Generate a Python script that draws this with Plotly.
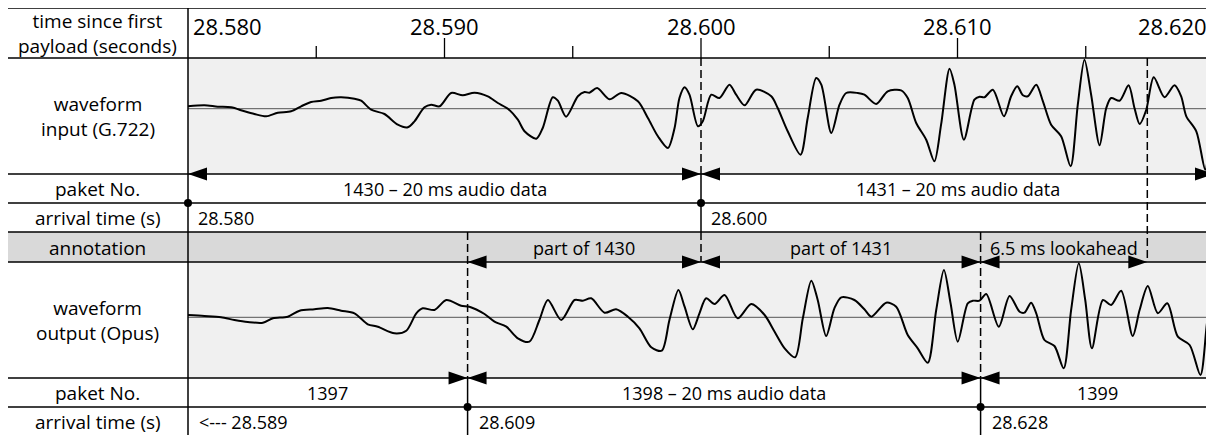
import plotly.graph_objects as go

# ---------------- data ----------------
T0 = 28.580
x_range = [28.580, 28.620]
major_ticks = [28.580, 28.590, 28.600, 28.610, 28.620]
minor_ticks = [28.585, 28.595, 28.605, 28.615]
tick_labels = ["28.580", "28.590", "28.600", "28.610", "28.620"]

# input waveform (G.722): time offset in ms from 28.580 s, amplitude (arbitrary units)
in_ms = [0.00, 0.64, 1.16, 1.68, 2.20, 2.59, 3.05, 3.50, 4.02, 4.41,
         4.80, 5.19, 5.58, 5.97, 6.49, 6.75, 7.14, 7.66, 8.18, 8.57,
         8.83, 9.22, 9.48, 9.81, 10.26, 10.71, 11.17, 11.69, 12.08, 12.47,
         12.86, 13.12, 13.58, 13.83, 14.22, 14.42, 14.74, 15.20, 15.46, 15.65,
         15.95, 16.43, 16.89, 17.54, 17.93, 18.32, 18.71, 18.97, 19.16, 19.36,
         19.55, 19.88, 20.07, 20.40, 20.72, 21.11, 21.37, 21.70, 22.15, 22.74,
         22.99, 23.38, 23.88, 24.16, 24.49, 24.69, 25.08, 25.40, 25.66, 26.11,
         26.37, 26.83, 27.28, 27.80, 28.06, 28.39, 28.78, 29.10, 29.36, 29.69,
         29.88, 30.25, 30.66, 30.86, 31.05, 31.38, 31.81, 32.09, 32.33, 32.55,
         32.74, 33.07, 33.33, 33.65, 34.04, 34.41, 34.69, 34.95, 35.21, 35.54,
         35.80, 35.99, 36.32, 36.67, 36.90, 37.10, 37.36, 37.65, 38.07, 38.46,
         38.72, 38.92, 39.31, 39.66, 39.83, 40.00]
in_amp = [2.4, 3.4, 2.0, 1.4, -2.6, -5.3, -7.6, -4.0, -2.6, 2.4,
          6.7, 8.0, 10.7, 11.4, 10.0, 8.0, -1.0, -5.3, -16.0, -18.6,
          -12.6, 1.4, 4.0, 2.4, 15.7, 13.4, 16.0, 12.4, 5.7, 0.0,
          -11.0, -22.5, -30.0, -19.3, 11.4, 8.0, -8.0, 12.4, 16.7, 16.0,
          20.7, 9.4, 15.7, 7.4, -9.3, -27.6, -39.3, -19.3, 10.7, 21.4,
          14.0, -17.6, -12.6, 14.0, 10.7, 24.0, 14.0, 3.4, 19.0, 12.4,
          0.7, -22.6, -46.0, -9.3, 30.7, 24.0, -24.3, 4.0, 15.7, 15.7,
          14.0, 4.7, 17.4, 18.4, 10.7, -14.3, -31.0, -52.6, -16.0, 40.0,
          24.0, -31.0, 9.0, 12.0, 11.4, 19.0, -7.6, 12.4, 22.4, 13.4,
          12.4, 24.0, 7.4, -16.0, -27.6, -57.6, 4.0, 49.0, 14.0, -36.6,
          0.7, 10.7, 8.0, 23.4, 0.7, -15.3, -1.0, 31.4, 11.4, 23.4,
          12.4, -7.6, -22.6, -61.0, -36.0, -14.3]

# output waveform (Opus)
out_ms = [0.00, 0.64, 1.29, 1.81, 2.33, 2.92, 3.31, 3.89, 4.35, 4.93,
          5.45, 5.97, 6.49, 7.01, 7.40, 8.05, 8.51, 8.90, 9.15, 9.61,
          10.07, 10.65, 10.97, 11.56, 11.95, 12.41, 12.86, 13.31, 13.70, 14.03,
          14.55, 15.07, 15.39, 15.72, 16.24, 16.69, 17.15, 17.60, 18.06, 18.47,
          18.77, 19.12, 19.36, 19.68, 19.94, 20.20, 20.53, 20.92, 21.43, 21.96,
          22.48, 22.87, 23.26, 23.67, 23.97, 24.30, 24.55, 24.88, 25.20, 25.47,
          25.98, 26.37, 26.64, 27.22, 27.61, 28.06, 28.45, 28.84, 29.17, 29.47,
          29.73, 30.01, 30.40, 30.60, 30.86, 31.12, 31.61, 32.03, 32.42, 32.61,
          32.87, 33.07, 33.39, 33.78, 34.14, 34.43, 34.73, 34.98, 35.24, 35.67,
          35.99, 36.38, 36.83, 37.10, 37.42, 37.81, 38.18, 38.59, 39.05, 39.47,
          39.71, 39.93]
out_amp = [2.3, 1.3, 0.0, -2.7, -4.7, -5.4, -1.0, 0.6, 6.6, 8.0,
           9.3, 6.6, 4.0, -7.0, -9.4, -16.0, -13.4, 4.0, 9.0, 7.3,
           17.3, 11.6, 10.6, 3.3, -4.4, -9.4, -21.0, -24.4, -2.7, 17.3,
           -2.7, 17.3, 16.6, 19.0, 4.6, 8.0, 0.6, -11.0, -30.0, -33.4,
           -2.7, 27.3, 10.6, -12.0, 4.0, 19.0, 13.3, 22.3, -1.0, 13.3,
           2.3, -14.4, -31.0, -40.0, -1.0, 36.6, 17.3, -18.7, 9.0, 20.0,
           17.3, 8.0, 0.6, 14.6, 10.6, -17.7, -31.0, -45.4, 7.3, 47.3,
           14.0, -24.4, 14.0, 16.6, 16.6, 23.3, -9.4, 21.3, 5.6, 4.6,
           14.6, 4.0, -22.7, -28.7, -51.0, 7.3, 54.0, 17.3, -31.0, 17.3,
           12.3, 26.6, -18.7, 7.3, 31.3, 4.0, 14.0, -19.4, -27.7, -57.7,
           -9.4, 45.6]

in_frames = [28.580, 28.600, 28.620]
in_packet_labels = ["1430 \u2013 20 ms audio data", "1431 \u2013 20 ms audio data"]
in_arrival_labels = ["28.580", "28.600"]

out_frames = [28.5909, 28.6109]
lookahead_end = 28.6174
annotation_labels = ["part of 1430", "part of 1431", "6.5 ms lookahead"]
out_packet_labels = ["1397", "1398 \u2013 20 ms audio data", "1399"]
out_arrival_labels = ["<--- 28.589", "28.609", "28.628"]

row_labels = ["time since first<br>payload (seconds)", "waveform<br>input (G.722)",
              "paket No.", "arrival time (s)", "annotation",
              "waveform<br>output (Opus)", "paket No.", "arrival time (s)"]

# ---------------- layout constants (screen pixels; page body adds an 8px offset) ----------------
W, H = 1214, 435
OFF = 8
LEFT = 188                 # screen x of the time axis start
RIGHT = 1214               # screen x of the time axis end
PW = RIGHT - LEFT
ROWS = [8, 58, 174, 203, 232, 262, 378, 407, 443]
BORDER_X = 7
FONT = "Open Sans"


def paper_x(p):
    return (p - LEFT) / PW


def dom(y_top, y_bot):
    return [1 - (y_bot - OFF) / H, 1 - (y_top - OFF) / H]


fig = go.Figure()

fig.add_trace(go.Scatter(x=[T0 + m / 1000 for m in in_ms], y=in_amp, xaxis="x", yaxis="y2",
                         mode="lines", line=dict(color="black", width=2, shape="spline", smoothing=0.8),
                         hoverinfo="skip", showlegend=False))
fig.add_trace(go.Scatter(x=[T0 + m / 1000 for m in out_ms], y=out_amp, xaxis="x", yaxis="y3",
                         mode="lines", line=dict(color="black", width=2, shape="spline", smoothing=0.8),
                         hoverinfo="skip", showlegend=False))
# arrival dots
fig.add_trace(go.Scatter(x=in_frames[:2] + out_frames,
                         y=[ROWS[3]] * 2 + [ROWS[7]] * 2, xaxis="x", yaxis="y",
                         mode="markers", marker=dict(color="black", size=8), cliponaxis=False,
                         hoverinfo="skip", showlegend=False))

shapes = []
# backgrounds
for yax in ["y2", "y3"]:
    shapes.append(dict(type="rect", xref="x", yref=yax + " domain", x0=x_range[0], x1=x_range[1],
                       y0=0, y1=1, fillcolor="#f0f0f0", line=dict(width=0), layer="below"))
    shapes.append(dict(type="line", xref="x", yref=yax, x0=x_range[0], x1=x_range[1], y0=0, y1=0,
                       line=dict(color="#555555", width=1), layer="below"))
shapes.append(dict(type="rect", xref="paper", yref="y", x0=paper_x(BORDER_X), x1=1,
                   y0=ROWS[4], y1=ROWS[5], fillcolor="#d9d9d9", line=dict(width=0), layer="below"))

# grid lines
for yv in ROWS[:-1]:
    shapes.append(dict(type="line", xref="paper", yref="y", x0=paper_x(BORDER_X), x1=1, y0=yv, y1=yv,
                       line=dict(color="black", width=1.5)))
for xv in [BORDER_X, LEFT]:
    shapes.append(dict(type="line", xref="paper", yref="y", x0=paper_x(xv), x1=paper_x(xv),
                       y0=ROWS[0], y1=ROWS[-1], line=dict(color="black", width=1.5)))

# ticks
for t in major_ticks[1:-1]:
    shapes.append(dict(type="line", xref="x", yref="y", x0=t, x1=t, y0=38, y1=ROWS[1],
                       line=dict(color="black", width=1.3)))
for t in minor_ticks:
    shapes.append(dict(type="line", xref="x", yref="y", x0=t, x1=t, y0=46, y1=ROWS[1],
                       line=dict(color="black", width=1.3)))

DASH = "8px,4px"


def vline(x, y0, y1, dashed):
    shapes.append(dict(type="line", xref="x", yref="y", x0=x, x1=x, y0=y0, y1=y1,
                       line=dict(color="black", width=1.5, dash=DASH if dashed else "solid")))


vline(in_frames[1], ROWS[1], ROWS[2], True)
vline(in_frames[1], ROWS[2], ROWS[4], False)
vline(in_frames[1], ROWS[4], ROWS[5], True)
for f in out_frames:
    vline(f, ROWS[4], ROWS[6], True)
    vline(f, ROWS[6], ROWS[8], False)
vline(lookahead_end, ROWS[1], ROWS[5], True)

# arrow heads
HL, HW = 19, 6.5


def head(x, y, d):
    # d=+1 points right (tip at x), d=-1 points left
    path = f"M0,0 L{-HL * d},{HW} L{-HL * d},{-HW} Z"
    shapes.append(dict(type="path", xref="x", yref="y", xsizemode="pixel", ysizemode="pixel",
                       xanchor=x, yanchor=y, path=path, fillcolor="black", line=dict(width=0)))


head(in_frames[0], ROWS[2], -1)
head(in_frames[1], ROWS[2], 1)
head(in_frames[1], ROWS[2], -1)
head(in_frames[2], ROWS[2], 1)

head(out_frames[0], ROWS[5], -1)
head(in_frames[1], ROWS[5], 1)
head(in_frames[1], ROWS[5], -1)
head(out_frames[1], ROWS[5], 1)
head(out_frames[1], ROWS[5], -1)
head(lookahead_end, ROWS[5], 1)

for f in out_frames:
    head(f, ROWS[6], 1)
    head(f, ROWS[6], -1)

annotations = []


def txt(x, y, text, xref="x", xanchor="center", xshift=0, size=18):
    annotations.append(dict(x=x, y=y, xref=xref, yref="y", text=text, showarrow=False,
                            xanchor=xanchor, yanchor="middle", xshift=xshift,
                            font=dict(family=FONT, size=size, color="black")))


ROW_MID = [33, 116, 189, 218, 247.5, 320, 393, 421.5]

# row labels
for i, lab in enumerate(row_labels):
    txt(paper_x((BORDER_X + LEFT) / 2), ROW_MID[i], lab, xref="paper", size=19)

# tick labels
for i, (t, lab) in enumerate(zip(major_ticks, tick_labels)):
    if i == 0:
        txt(t, 26, lab, xanchor="left", xshift=3, size=22)
    elif i == len(major_ticks) - 1:
        txt(t, 26, lab, xanchor="right", xshift=-5, size=22)
    else:
        txt(t, 26, lab, size=22)

for i, lab in enumerate(in_packet_labels):
    txt((in_frames[i] + in_frames[i + 1]) / 2, ROW_MID[2], lab)
for i, lab in enumerate(in_arrival_labels):
    txt(in_frames[i], ROW_MID[3], lab, xanchor="left", xshift=8)

ann_bounds = [out_frames[0], in_frames[1], out_frames[1], lookahead_end]
for i, lab in enumerate(annotation_labels):
    txt((ann_bounds[i] + ann_bounds[i + 1]) / 2, ROW_MID[4], lab)

pkt_bounds = [x_range[0], out_frames[0], out_frames[1], x_range[1]]
for i, lab in enumerate(out_packet_labels):
    txt((pkt_bounds[i] + pkt_bounds[i + 1]) / 2, ROW_MID[6], lab)
arr_pos = [x_range[0], out_frames[0], out_frames[1]]
for i, lab in enumerate(out_arrival_labels):
    txt(arr_pos[i], ROW_MID[7], lab, xanchor="left", xshift=9)

fig.update_layout(
    width=W, height=H,
    margin=dict(l=LEFT - OFF, r=W - (RIGHT - OFF), t=0, b=0, pad=0),
    paper_bgcolor="white", plot_bgcolor="rgba(0,0,0,0)",
    showlegend=False,
    xaxis=dict(range=x_range, domain=[0, 1], visible=False, anchor="y", fixedrange=True),
    yaxis=dict(range=[H + OFF, OFF], domain=[0, 1], visible=False, anchor="x", fixedrange=True),
    yaxis2=dict(range=[-65.3, 50.7], domain=dom(ROWS[1], ROWS[2]),
                visible=False, anchor="x", fixedrange=True),
    yaxis3=dict(range=[-60.7, 55.3], domain=dom(ROWS[5], ROWS[6]),
                visible=False, anchor="x", fixedrange=True),
    shapes=shapes,
    annotations=annotations,
)

fig.write_html("out.html")
